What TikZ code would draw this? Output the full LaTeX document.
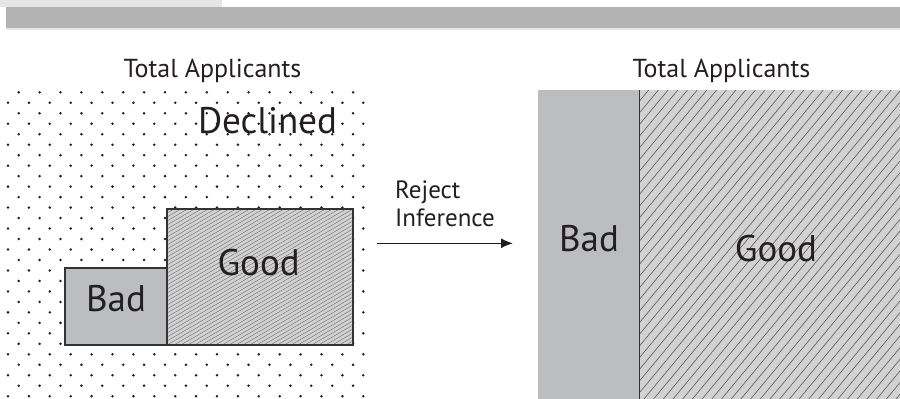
\documentclass[tikz,border=0pt]{standalone}
\usepackage{fontspec}
\setmainfont{PT Sans}
\usetikzlibrary{arrows.meta}
\definecolor{tabGray}{HTML}{E5E5E5}
\definecolor{barGray}{HTML}{B3B3B3}
\definecolor{badGray}{HTML}{BCBDC1}
\definecolor{goodGray}{HTML}{D2D2D2}
\definecolor{edgeGray}{HTML}{333333}
\definecolor{inkGray}{HTML}{231F20}
\begin{document}
\begin{tikzpicture}
[x=1pt,y=-1pt,
  boxDecorate/.style={draw=edgeGray,line width=1.3pt},
  hatchDecorate/.style={draw=black!55,line width=0.45pt},
  titleDecorate/.style={anchor=base,inner sep=0pt,text=inkGray,font=\fontsize{26}{30}\selectfont},
  bigDecorate/.style={anchor=base,inner sep=0pt,text=inkGray,font=\fontsize{37}{42}\selectfont},
  smallDecorate/.style={anchor=base west,inner sep=0pt,text=inkGray,font=\fontsize{25}{29}\selectfont},
  arrowDecorate/.style={-{Latex[length=12pt,width=10pt]},line width=1.4pt,inkGray}]
\useasboundingbox (0,0) rectangle (900,399);
%% header bar
\fill[tabGray] (0,0) rectangle (222,7);
\fill[barGray] (6,7) rectangle (900,28);
\fill[tabGray] (6,28) rectangle (900,30);
%% dotted field of declined applicants
\foreach \row in {0,...,14}
{
  \foreach \k in {0,...,16}
    \fill[inkGray] (18.7+20.9*\k,92.3+20.96*\row) circle (1.4);
  \foreach \k in {0,...,17}
    \fill[inkGray] (8+20.9*\k,102.78+20.96*\row) circle (1.4);
}
%% left: accepted applicants
\fill[badGray] (65,268) rectangle (167,345);
\fill[goodGray] (167,209) rectangle (353,345);
\begin{scope}
  \clip (167,209) rectangle (353,345);
  \foreach \y in {209,213,...,457}
    \draw[hatchDecorate] (167,\y) -- (353,\y-108);
\end{scope}
\draw[boxDecorate] (65,268) rectangle (167,345);
\draw[boxDecorate] (167,209) rectangle (353,345);
%% right: all applicants after inference
\fill[badGray] (538,90) rectangle (639,399);
\fill[goodGray] (639,90) rectangle (900,399);
\begin{scope}
  \clip (639,90) rectangle (900,399);
  \foreach \x in {382,391.7,...,905}
    \draw[hatchDecorate,draw=black!65,line width=0.6pt] (\x,399) -- (\x+257,90);
\end{scope}
\draw[edgeGray,line width=1pt] (639,90) -- (639,399);
%% labels
\node (leftTitle) at (212.5,77) [titleDecorate] {Total Applicants};
\node (rightTitle) at (721.5,77) [titleDecorate] {Total Applicants};
\node (declined) at (267.5,133.3) [bigDecorate] {Declined};
\node (leftBad) at (116,311.7) [bigDecorate] {Bad};
\node (leftGood) at (258.7,275) [bigDecorate] {Good};
\node (rightBad) at (589,251.7) [bigDecorate] {Bad};
\node (rightGood) at (776,261) [bigDecorate] {Good};
\node (reject) at (395,198.3) [smallDecorate] {Reject};
\node (inference) at (395,226.7) [smallDecorate] {Inference};
%% arrow
\coordinate (arrowStart) at (377,243.3);
\coordinate (arrowEnd) at (513,243.3);
\draw[arrowDecorate] (arrowStart) -- (arrowEnd);
\end{tikzpicture}
\end{document}
